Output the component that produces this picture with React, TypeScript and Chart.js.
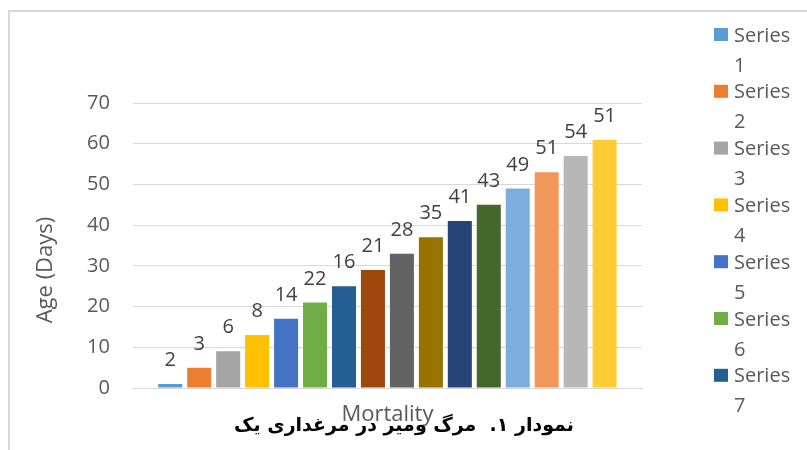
import React, { useEffect, useRef } from 'react';
import { Chart, registerables } from 'chart.js';

Chart.register(...registerables);

const categories = ['Mortality'];
const seriesNames = [
  'Series 1', 'Series 2', 'Series 3', 'Series 4', 'Series 5', 'Series 6', 'Series 7', 'Series 8',
  'Series 9', 'Series 10', 'Series 11', 'Series 12', 'Series 13', 'Series 14', 'Series 15', 'Series 16',
];
const ageDays = [1, 5, 9, 13, 17, 21, 25, 29, 33, 37, 41, 45, 49, 53, 57, 61];
const dataLabels = [2, 3, 6, 8, 14, 22, 16, 21, 28, 35, 41, 43, 49, 51, 54, 51];
const seriesColors = [
  '#5B9BD5', '#ED7D31', '#A5A5A5', '#FFC000', '#4472C4', '#70AD47', '#255E91', '#9E480E',
  '#636363', '#997300', '#264478', '#43682B', '#7CAFDD', '#F1975A', '#B7B7B7', '#FFCD33',
];
const legendShownCount = 7;
const yAxisTitle = 'Age (Days)';
const chartTitle = 'نمودار ۱.  مرگ ومیر در مرغداری یک';
const yMin = 0;
const yMax = 70;
const yStep = 10;

const FONT = "'Open Sans', 'DejaVu Sans', sans-serif";
const TEXT = '#595959';

const decorPlugin = {
  id: 'decor',
  beforeDraw(chart: any) {
    const ctx = chart.ctx as CanvasRenderingContext2D;
    ctx.save();
    ctx.fillStyle = '#ffffff';
    ctx.fillRect(0, 0, chart.width, chart.height);
    ctx.strokeStyle = '#D9D9D9';
    ctx.lineWidth = 2;
    ctx.beginPath();
    ctx.moveTo(9, chart.height);
    ctx.lineTo(9, 11);
    ctx.lineTo(chart.width, 11);
    ctx.stroke();
    ctx.restore();
  },
  afterDatasetsDraw(chart: any) {
    const ctx = chart.ctx as CanvasRenderingContext2D;
    ctx.save();
    ctx.font = `20px ${FONT}`;
    ctx.fillStyle = '#404040';
    ctx.textAlign = 'center';
    ctx.textBaseline = 'alphabetic';
    chart.data.datasets.forEach((_ds: any, i: number) => {
      const el = chart.getDatasetMeta(i).data[0];
      if (!el) return;
      ctx.fillText(String(dataLabels[i]), el.x, el.y - 18);
    });
    ctx.restore();
  },
  afterDraw(chart: any) {
    const ctx = chart.ctx as CanvasRenderingContext2D;
    ctx.save();
    // legend (first entries, wrapped)
    ctx.font = `20px ${FONT}`;
    ctx.textAlign = 'left';
    ctx.textBaseline = 'alphabetic';
    for (let i = 0; i < legendShownCount; i++) {
      const y0 = 27 + i * 56.8;
      ctx.fillStyle = seriesColors[i];
      ctx.fillRect(714, y0 + 1, 14, 13);
      ctx.fillStyle = TEXT;
      const parts = seriesNames[i].split(' ');
      ctx.fillText(parts[0], 734, y0 + 14.5);
      ctx.fillText(parts[1], 734, y0 + 44.5);
    }
    // y axis title
    ctx.save();
    ctx.translate(46, 270);
    ctx.rotate(-Math.PI / 2);
    ctx.font = `22px ${FONT}`;
    ctx.fillStyle = TEXT;
    ctx.textAlign = 'center';
    ctx.textBaseline = 'middle';
    ctx.fillText(yAxisTitle, 0, 0);
    ctx.restore();
    // chart title (bottom)
    ctx.font = `bold 19px 'DejaVu Sans', sans-serif`;
    ctx.fillStyle = '#000000';
    (ctx as any).direction = 'rtl';
    ctx.textAlign = 'center';
    ctx.textBaseline = 'middle';
    ctx.fillText(chartTitle, 404, 426);
    ctx.restore();
  },
};

export default function App() {
  const ref = useRef<HTMLCanvasElement>(null);
  useEffect(() => {
    if (!ref.current) return;
    const chart = new Chart(ref.current, {
      type: 'bar',
      data: {
        labels: categories,
        datasets: seriesNames.map((name, i) => ({
          label: name,
          data: [ageDays[i]],
          backgroundColor: seriesColors[i],
          borderWidth: 0,
          barPercentage: 0.83,
          categoryPercentage: 0.91,
        })),
      },
      options: {
        responsive: false,
        animation: false,
        devicePixelRatio: 1,
        layout: { padding: { left: 64, right: 165, top: 103, bottom: 8 } },
        plugins: {
          legend: { display: false },
          title: { display: false },
          tooltip: { enabled: false },
        },
        scales: {
          x: {
            grid: { display: false, drawTicks: false },
            border: { display: true, color: '#D9D9D9', width: 1 },
            ticks: {
              color: TEXT,
              font: { family: FONT, size: 22, lineHeight: '20px' as any },
              padding: 17,
            },
          },
          y: {
            min: yMin,
            max: yMax,
            ticks: {
              stepSize: yStep,
              color: TEXT,
              font: { family: FONT, size: 20 },
              padding: 23,
            },
            grid: { color: '#D9D9D9', lineWidth: 1, drawTicks: false },
            border: { display: false },
          },
        },
      },
      plugins: [decorPlugin],
    });
    return () => chart.destroy();
  }, []);
  return (
    <div style={{ position: 'fixed', left: 0, top: 0, width: 807, height: 450, background: '#fff' }}>
      <canvas ref={ref} width={807} height={450} style={{ display: 'block' }} />
    </div>
  );
}
